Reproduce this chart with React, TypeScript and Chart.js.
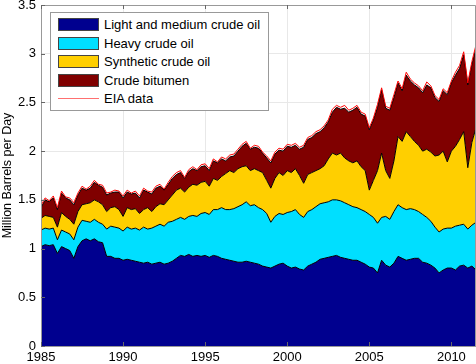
import { useEffect, useRef } from "react";
import { Chart, registerables } from "chart.js";

Chart.register(...registerables);

const FONT = '"Liberation Sans", Arial, Helvetica, sans-serif';

// Quarterly samples starting 1985.0
const startYear = 1985;
const samplesPerYear = 4;

const lightMedium = [
  1.02, 1.04, 1.03, 1.04,
  0.95, 1.02, 1.0, 0.98,
  0.9, 1.02, 1.08, 1.1,
  1.08, 1.1, 1.07, 1.06,
  0.92, 0.92, 0.9, 0.9,
  0.88, 0.89, 0.88, 0.87,
  0.86, 0.85, 0.86, 0.84,
  0.85, 0.86, 0.84, 0.85,
  0.87, 0.9, 0.93, 0.92,
  0.94, 0.92, 0.93, 0.92,
  0.93, 0.91, 0.93, 0.92,
  0.9, 0.89, 0.88, 0.87,
  0.86, 0.86, 0.87, 0.86,
  0.85, 0.84, 0.82, 0.81,
  0.8, 0.82, 0.84, 0.85,
  0.82, 0.8, 0.81, 0.79,
  0.78, 0.82, 0.84, 0.86,
  0.89, 0.9, 0.91, 0.92,
  0.93, 0.91, 0.9, 0.89,
  0.88, 0.88, 0.86, 0.84,
  0.81, 0.8, 0.75, 0.88,
  0.83, 0.81, 0.85, 0.92,
  0.9, 0.88, 0.89, 0.9,
  0.9, 0.86, 0.85, 0.83,
  0.8, 0.75, 0.78, 0.8,
  0.8, 0.78, 0.82, 0.83,
  0.8, 0.82, 0.78,
];

const heavy = [
  0.17, 0.17, 0.17, 0.17,
  0.14, 0.17, 0.17, 0.17,
  0.19, 0.2, 0.21, 0.18,
  0.19, 0.2, 0.2, 0.19,
  0.28, 0.31, 0.32, 0.31,
  0.3, 0.33, 0.32, 0.34,
  0.33, 0.37, 0.34, 0.37,
  0.38, 0.39, 0.39, 0.42,
  0.41, 0.4, 0.39, 0.38,
  0.39, 0.42, 0.4, 0.44,
  0.44, 0.44, 0.47, 0.48,
  0.52, 0.51, 0.52, 0.54,
  0.57, 0.59, 0.61, 0.58,
  0.6, 0.58, 0.58, 0.55,
  0.47, 0.51, 0.52, 0.5,
  0.55, 0.58, 0.59, 0.56,
  0.54, 0.56, 0.56, 0.57,
  0.57, 0.57, 0.57, 0.58,
  0.57, 0.58, 0.57, 0.56,
  0.55, 0.54, 0.54, 0.54,
  0.54, 0.52, 0.51, 0.44,
  0.5, 0.49, 0.53, 0.53,
  0.52, 0.52, 0.52, 0.5,
  0.48, 0.49, 0.47, 0.45,
  0.42, 0.42, 0.42, 0.41,
  0.41, 0.45, 0.42, 0.42,
  0.4, 0.42, 0.49,
];

const synthetic = [
  0.12, 0.13, 0.13, 0.11,
  0.13, 0.18, 0.16, 0.15,
  0.16, 0.16, 0.16, 0.18,
  0.2, 0.2, 0.21, 0.2,
  0.18, 0.19, 0.21, 0.19,
  0.15, 0.2, 0.2, 0.2,
  0.17, 0.18, 0.22, 0.17,
  0.2, 0.21, 0.22, 0.23,
  0.27, 0.3, 0.3, 0.28,
  0.3, 0.32, 0.32, 0.32,
  0.32, 0.29, 0.32, 0.3,
  0.32, 0.37, 0.4, 0.37,
  0.39, 0.39, 0.37, 0.36,
  0.37, 0.38, 0.38, 0.34,
  0.35, 0.39, 0.42, 0.4,
  0.43, 0.4, 0.42, 0.4,
  0.35, 0.38, 0.38, 0.37,
  0.36, 0.38, 0.44, 0.48,
  0.46, 0.49, 0.46, 0.45,
  0.45, 0.48, 0.44, 0.42,
  0.25, 0.38, 0.54, 0.66,
  0.47, 0.42, 0.52, 0.7,
  0.68, 0.8, 0.74, 0.7,
  0.68, 0.65, 0.7, 0.71,
  0.73, 0.79, 0.8, 0.68,
  0.79, 0.82, 0.88, 0.95,
  0.63, 0.85, 0.97,
];

const bitumen = [
  0.11, 0.16, 0.15, 0.2,
  0.18, 0.2, 0.19, 0.2,
  0.2, 0.17, 0.17, 0.14,
  0.15, 0.18, 0.17, 0.18,
  0.17, 0.15, 0.15, 0.18,
  0.19, 0.16, 0.16, 0.16,
  0.16, 0.2, 0.16, 0.18,
  0.19, 0.18, 0.15, 0.16,
  0.17, 0.16, 0.16, 0.14,
  0.16, 0.16, 0.15, 0.16,
  0.16, 0.16, 0.18, 0.18,
  0.18, 0.13, 0.14, 0.17,
  0.18, 0.21, 0.23, 0.22,
  0.22, 0.23, 0.2, 0.23,
  0.26, 0.25, 0.23, 0.25,
  0.25, 0.26, 0.24, 0.27,
  0.37, 0.36, 0.36, 0.38,
  0.38, 0.39, 0.38, 0.42,
  0.49, 0.45, 0.51, 0.5,
  0.54, 0.55, 0.54, 0.56,
  0.62, 0.62, 0.65, 0.65,
  0.64, 0.7, 0.65, 0.55,
  0.52, 0.58, 0.57, 0.58,
  0.59, 0.6, 0.66, 0.66,
  0.6, 0.55, 0.62, 0.69,
  0.7, 0.73, 0.73, 0.79,
  0.85, 0.8, 0.82,
];

const eiaData = [
  1.44, 1.52, 1.49, 1.54,
  1.42, 1.59, 1.53, 1.52,
  1.47, 1.57, 1.64, 1.61,
  1.64, 1.7, 1.66, 1.65,
  1.57, 1.58, 1.6, 1.59,
  1.54, 1.6, 1.57, 1.59,
  1.54, 1.62, 1.59, 1.58,
  1.64, 1.66, 1.61, 1.68,
  1.74, 1.78, 1.8, 1.73,
  1.81, 1.84, 1.81, 1.86,
  1.87, 1.82, 1.92, 1.89,
  1.94, 1.92, 1.96, 1.97,
  2.02, 2.07, 2.1, 2.03,
  2.06, 2.05, 1.99, 1.95,
  1.9, 1.99, 2.03, 2.02,
  2.07, 2.06, 2.08, 2.04,
  2.06, 2.14, 2.16, 2.2,
  2.22, 2.26, 2.32, 2.43,
  2.47, 2.45, 2.47, 2.42,
  2.44, 2.47, 2.4, 2.38,
  2.24, 2.34, 2.48, 2.65,
  2.46, 2.44, 2.58, 2.72,
  2.64, 2.81, 2.74, 2.7,
  2.67, 2.62, 2.71, 2.67,
  2.57, 2.53, 2.64, 2.6,
  2.72, 2.81, 2.88, 3.02,
  2.7, 2.92, 3.09,
];

const seriesNames = [
  "Light and medium crude oil",
  "Heavy crude oil",
  "Synthetic crude oil",
  "Crude bitumen",
  "EIA data",
];
const seriesColors = ["#00008f", "#00dfff", "#ffcf00", "#800000", "#ff0000"];

const xTicks = [1985, 1990, 1995, 2000, 2005, 2010];
const yTicks = [0, 0.5, 1, 1.5, 2, 2.5, 3, 3.5];

const times = lightMedium.map((_, i) => startYear + i / samplesPerYear);

const framePlugin = {
  id: "frame",
  afterDraw(chart: any) {
    const { ctx, chartArea } = chart;
    const { left, right, top, bottom } = chartArea;
    const xs = chart.scales.x;
    const ys = chart.scales.y;
    ctx.save();
    ctx.strokeStyle = "#999999";
    ctx.lineWidth = 1;
    ctx.beginPath();
    ctx.moveTo(left + 0.5, bottom + 0.5);
    ctx.lineTo(left + 0.5, top + 0.5);
    ctx.lineTo(right - 0.5, top + 0.5);
    ctx.lineTo(right - 0.5, bottom + 0.5);
    ctx.lineTo(left + 0.5, bottom + 0.5);
    ctx.stroke();
    ctx.strokeStyle = "#666666";
    ctx.beginPath();
    xTicks.forEach((t) => {
      const px = Math.round(xs.getPixelForValue(t)) + 0.5;
      ctx.moveTo(px, top);
      ctx.lineTo(px, top + 4);
      ctx.moveTo(px, bottom);
      ctx.lineTo(px, bottom - 4);
    });
    yTicks.forEach((t) => {
      const py = Math.round(ys.getPixelForValue(t)) + 0.5;
      ctx.moveTo(left, py);
      ctx.lineTo(left + 4, py);
    });
    ctx.stroke();
    ctx.restore();
  },
};

function ChartCanvas() {
  const ref = useRef<HTMLCanvasElement | null>(null);
  useEffect(() => {
    if (!ref.current) return;
    const area = (data: number[], idx: number) => ({
      label: seriesNames[idx],
      data,
      backgroundColor: seriesColors[idx],
      borderColor: "#000000",
      borderWidth: 1,
      fill: idx === 0 ? "origin" : "-1",
      stack: "production",
      pointRadius: 0,
      tension: 0,
      order: 1,
    });
    const chart = new Chart(ref.current, {
      type: "line",
      data: {
        labels: times,
        datasets: [
          area(lightMedium, 0),
          area(heavy, 1),
          area(synthetic, 2),
          area(bitumen, 3),
          {
            label: seriesNames[4],
            data: eiaData,
            borderColor: seriesColors[4],
            borderWidth: 1,
            fill: false,
            stack: "eia",
            pointRadius: 0,
            tension: 0,
            order: -1,
          } as any,
        ],
      },
      options: {
        animation: false,
        responsive: false,
        maintainAspectRatio: false,
        layout: { padding: { top: 5, right: 0, left: 0, bottom: 0 } },
        plugins: {
          legend: { display: false },
          tooltip: { enabled: false },
        },
        scales: {
          x: {
            type: "linear",
            min: 1985,
            max: 2011.5,
            afterFit: (s: any) => {
              s.height = 18;
            },
            border: { color: "#999999" },
            grid: { color: "#e8e8e8", drawTicks: false },
            afterBuildTicks: (s: any) => {
              s.ticks = xTicks.map((v) => ({ value: v }));
            },
            ticks: {
              padding: 4,
              color: "#000",
              maxRotation: 0,
              autoSkip: false,
              font: { family: FONT, size: 13 },
              callback: (v: any) => String(v),
            },
          },
          y: {
            type: "linear",
            stacked: true,
            min: 0,
            max: 3.5,
            afterFit: (s: any) => {
              s.width = 41;
              s.paddingTop = 0;
              s.paddingBottom = 0;
            },
            border: { color: "#999999" },
            grid: { color: "#e8e8e8", drawTicks: false },
            afterBuildTicks: (s: any) => {
              s.ticks = yTicks.map((v) => ({ value: v }));
            },
            ticks: {
              padding: 5,
              color: "#000",
              autoSkip: false,
              font: { family: FONT, size: 13, lineHeight: 0.01 },
              callback: (v: any) => String(v),
            },
            title: {
              display: true,
              text: "Million Barrels per Day",
              color: "#000",
              padding: 0,
              font: { family: FONT, size: 12.5 },
            },
          },
        },
      },
      plugins: [framePlugin],
    });
    return () => chart.destroy();
  }, []);
  return <canvas ref={ref} width={476} height={364} style={{ display: "block" }} />;
}

function Legend() {
  const rowTop = (i: number) => 5 + i * 18.6;
  return (
    <div
      style={{
        position: "absolute",
        left: 50,
        top: 12,
        width: 219,
        height: 99,
        border: "1px solid #999999",
        background: "#ffffff",
        boxSizing: "border-box",
        fontFamily: FONT,
        fontSize: 13,
        color: "#000",
      }}
    >
      {seriesNames.map((name, i) => (
        <div key={name}>
          {i < 4 ? (
            <div
              style={{
                position: "absolute",
                left: 7,
                top: rowTop(i),
                width: 41,
                height: 13,
                background: seriesColors[i],
                border: "1px solid #444",
                boxSizing: "border-box",
              }}
            />
          ) : (
            <div
              style={{
                position: "absolute",
                left: 7,
                top: rowTop(i) + 6,
                width: 41,
                height: 1,
                background: "#ff7070",
              }}
            />
          )}
          <div
            style={{
              position: "absolute",
              left: 53,
              top: rowTop(i) - 2,
              lineHeight: "17px",
              whiteSpace: "nowrap",
            }}
          >
            {name}
          </div>
        </div>
      ))}
    </div>
  );
}

export default function App() {
  return (
    <div style={{ position: "absolute", left: 0, top: 0, width: 476, height: 364, background: "#fff" }}>
      <ChartCanvas />
      <Legend />
    </div>
  );
}
